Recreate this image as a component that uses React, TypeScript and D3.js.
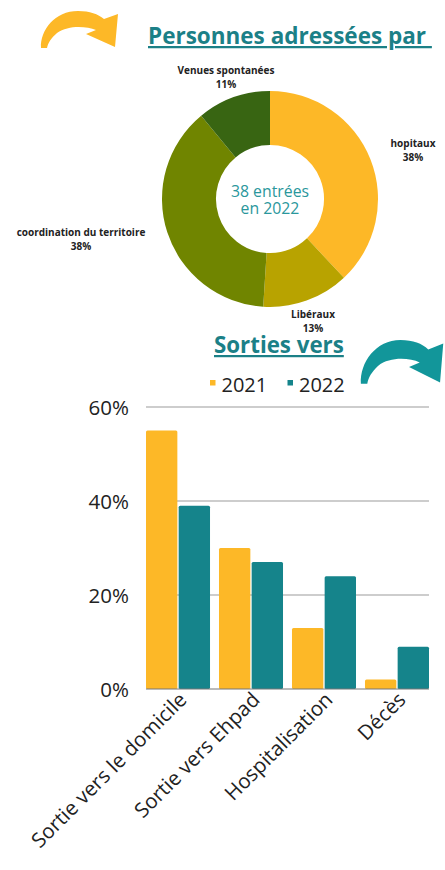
import React from "react";
import * as d3 from "d3";

const donutLabels = ["hopitaux", "Libéraux", "coordination du territoire", "Venues spontanées"];
const donutValues = [38, 13, 38, 11];
const donutColors = ["#FDB827", "#B8A300", "#708500", "#386512"];

const categories = ["Sortie vers le domicile", "Sortie vers Ehpad", "Hospitalisation", "Décès"];
const series = ["2021", "2022"];
const values2021 = [55, 30, 13, 2];
const values2022 = [39, 27, 24, 9];
const seriesColors = ["#FDB827", "#15848B"];
const yTicks = [0, 20, 40, 60];

const TEAL = "#1B8087";
const FONT = "'Open Sans', sans-serif";

const arrowPath =
  "M 41 48 C 40 30, 55 11, 78 11 C 90 11, 98 14, 104 19 L 118 14 L 115 47 L 86 34 L 96 30 C 86 26, 68 25, 57 33 C 51 38, 48 43, 47 48 Z";

export default function App() {
  const cx = 270, cy = 199;
  const pie = d3.pie<number>().sort(null).value((d) => d)(donutValues);
  const arc = d3.arc<d3.PieArcDatum<number>>().innerRadius(54).outerRadius(108);

  const labelPos = [
    { x: 413, y: 147 },
    { x: 313, y: 318 },
    { x: 81, y: 236 },
    { x: 226, y: 74 },
  ];

  const y = d3.scaleLinear().domain([0, 60]).range([689, 407]);
  const x0 = d3.scaleBand().domain(categories).range([146, 429]).paddingInner(0.123).paddingOuter(0);
  const x1 = d3.scaleBand().domain(series).range([0, x0.bandwidth()]).paddingInner(0.04);
  const data = [values2021, values2022];

  return (
    <svg width={445} height={870} style={{ position: "absolute", left: 0, top: 0, background: "#fff" }}>
      {/* arrows */}
      <path d={arrowPath} fill="#FDB827" />
      <g transform="translate(317,327) scale(1.07,1.18)">
        <path d={arrowPath} fill="#12969A" />
      </g>

      {/* title 1 */}
      <text x={148} y={44} fontFamily={FONT} fontWeight={700} fontSize={22.5} fill={TEAL} textDecoration="underline" style={{ whiteSpace: "pre" }}>
        {"Personnes adressées par "}
      </text>

      {/* donut */}
      <g transform={`translate(${cx},${cy})`}>
        {pie.map((p, i) => (
          <path key={i} d={arc(p) || ""} fill={donutColors[i]} />
        ))}
        <text x={0} y={-2} textAnchor="middle" fontFamily={FONT} fontSize={15.8} fill="#2A979C">38 entrées</text>
        <text x={0} y={15} textAnchor="middle" fontFamily={FONT} fontSize={15.8} fill="#2A979C">en 2022</text>
      </g>
      {donutLabels.map((l, i) => (
        <g key={l}>
          <text x={labelPos[i].x} y={labelPos[i].y} textAnchor="middle" fontFamily={FONT} fontWeight={700} fontSize={10} fill="#222">{l}</text>
          <text x={labelPos[i].x} y={labelPos[i].y + 14} textAnchor="middle" fontFamily={FONT} fontWeight={700} fontSize={10} fill="#222">{donutValues[i]}%</text>
        </g>
      ))}

      {/* title 2 */}
      <text x={214} y={353} fontFamily={FONT} fontWeight={700} fontSize={22.3} fill={TEAL} textDecoration="underline">Sorties vers</text>

      {/* legend */}
      {series.map((s, i) => (
        <g key={s} transform={`translate(${210 + i * 77.5},0)`}>
          <rect x={0} y={380} width={5.5} height={5.5} fill={seriesColors[i]} />
          <text x={11.5} y={392} fontFamily={FONT} fontSize={20} fill="#222">{s}</text>
        </g>
      ))}

      {/* grid */}
      {yTicks.map((t) => (
        <g key={t}>
          {t > 0 && <line x1={146} x2={429} y1={y(t)} y2={y(t)} stroke="#BDBDBD" strokeWidth={1.5} />}
          <text x={129} y={y(t) + 7.5} textAnchor="end" fontFamily={FONT} fontSize={20.5} fill="#222">{t}%</text>
        </g>
      ))}

      {/* bars */}
      {categories.map((c, ci) => (
        <g key={c} transform={`translate(${x0(c)},0)`}>
          {series.map((s, si) => (
            <rect key={s} x={x1(s)} y={y(data[si][ci])} width={x1.bandwidth()} height={y(0) - y(data[si][ci])} fill={seriesColors[si]} rx={1.5} />
          ))}
        </g>
      ))}
      <line x1={146} x2={429} y1={y(0)} y2={y(0)} stroke="#777" strokeWidth={1} />

      {/* x labels */}
      {categories.map((c) => {
        const px = (x0(c) || 0) + x0.bandwidth() / 2 + 10;
        const py = 701;
        return (
          <text key={c} x={px} y={py} textAnchor="end" transform={`rotate(-45,${px},${py})`} fontFamily={FONT} fontSize={20.5} fill="#222">{c}</text>
        );
      })}
    </svg>
  );
}
